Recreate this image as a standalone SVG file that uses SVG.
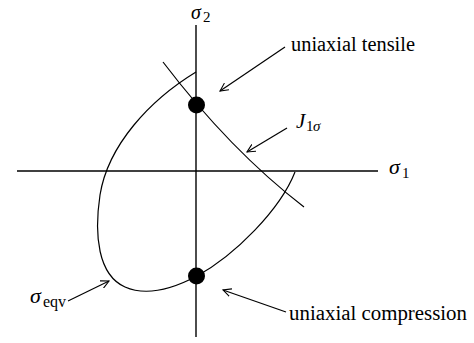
<svg xmlns="http://www.w3.org/2000/svg" width="474" height="343" viewBox="0 0 474 343">
<defs>
<marker id="arr" viewBox="0 0 10 10" refX="9" refY="5" markerWidth="9" markerHeight="9" markerUnits="userSpaceOnUse" orient="auto">
<path d="M0,0.5 L9,5 L0,9.5" fill="none" stroke="#000" stroke-width="1.2"/>
</marker>
</defs>
<style>
.ax{stroke:#000;stroke-width:1.4;fill:none}
.cv{stroke:#000;stroke-width:1.2;fill:none}
.ar{stroke:#000;stroke-width:1.2;fill:none;marker-end:url(#arr)}
text{font-family:'Liberation Serif','DejaVu Serif',serif;fill:#000}
.t{font-size:20px}
.g{font-style:italic;font-size:22px}
.s{font-size:15px}
</style>
<rect width="474" height="343" fill="#fff"/>
<g id="axes">
<line class="ax" x1="17" y1="171" x2="378" y2="171"/>
<line class="ax" x1="196" y1="25" x2="196" y2="337"/>
<text font-style="italic" font-size="20" x="191" y="19">σ</text><text class="s" x="203" y="22">2</text>
<text class="g" x="389" y="174">σ</text><text class="s" x="402" y="178">1</text>
</g>
<g id="seqv-curve">
<path class="cv" d="M196,72 C150,100 108,145 100,195 C94,235 98,275 125,287 C150,298 180,285 197,276 C235,255 280,210 295,172"/>
</g>
<g id="j1-curve">
<path class="cv" d="M163,62 Q230,150 304,207"/>
</g>
<g id="tensile-point">
<circle cx="196.5" cy="105" r="8.5" fill="#000"/>
</g>
<g id="compression-point">
<circle cx="196.5" cy="276" r="8.5" fill="#000"/>
</g>
<g id="connectors">
<line class="ar" x1="285" y1="47" x2="220" y2="91"/>
<line class="ar" x1="287" y1="128" x2="247" y2="152"/>
<line class="ar" x1="68" y1="301" x2="109" y2="281"/>
<line class="ar" x1="286" y1="312" x2="223" y2="290"/>
</g>
<g id="labels">
<text class="t" x="291" y="50.5" textLength="124" lengthAdjust="spacingAndGlyphs">uniaxial tensile</text>
<text class="t" x="289" y="320" textLength="178" lengthAdjust="spacingAndGlyphs">uniaxial compression</text>
<text font-size="21" font-style="italic" x="296" y="128">J</text><text class="s" x="306" y="131">1</text><text class="s" x="313" y="131" font-style="italic">σ</text>
<text class="g" x="30" y="303">σ</text><text font-size="16" x="43" y="307">eqv</text>
</g>
</svg>
